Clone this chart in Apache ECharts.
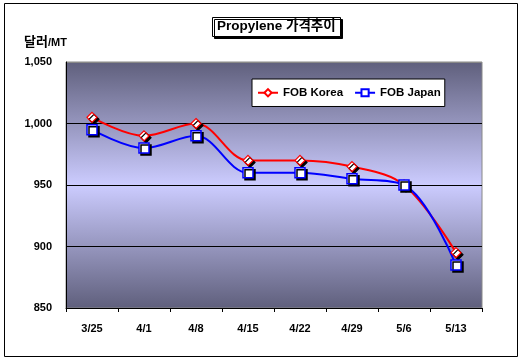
<!DOCTYPE html>
<html><head><meta charset="utf-8">
<script src="https://cdn.jsdelivr.net/npm/echarts@6/dist/echarts.min.js"></script>
<style>html,body{margin:0;padding:0;background:#fff}#c{width:523px;height:361px}</style>
</head><body><div id="c"></div>
<script>
const categories = ['3/25','4/1','4/8','4/15','4/22','4/29','5/6','5/13'];
const korea = [1005, 990, 1000, 970, 970, 965, 950, 895];
const japan = [995, 980, 990, 960, 960, 955, 950, 885];
const yTicks = {min: 850, max: 1050, interval: 50};

const FONT = '"Liberation Sans", "Noto Sans CJK KR", Arial, sans-serif';
const chart = echarts.init(document.getElementById('c'));
chart.setOption({
  animation: false,
  graphic: [{
    type: 'rect', shape: {x: 4.5, y: 3.5, width: 513, height: 353},
    style: {fill: 'none', stroke: '#000', lineWidth: 1}, z: -1
  }],
  title: {
    text: 'Propylene 가격추이',
    left: 212, top: 17,
    padding: [3, 5, 3, 5],
    borderColor: '#000', borderWidth: 1, backgroundColor: '#fff',
    shadowColor: '#000', shadowOffsetX: 2, shadowOffsetY: 2, shadowBlur: 0,
    textStyle: {fontFamily: FONT, fontSize: 13.5, fontWeight: 'bold', color: '#000'}
  },
  legend: {
    top: 79, left: 252, itemGap: 11,
    padding: [8, 4, 8, 5],
    borderColor: '#000', borderWidth: 1, backgroundColor: '#fff',
    itemWidth: 20, itemHeight: 9,
    textStyle: {fontFamily: FONT, fontSize: 11.5, fontWeight: 'bold', color: '#000'},
    data: [{name: 'FOB Korea'}, {name: 'FOB Japan'}]
  },
  grid: {
    left: 66, top: 62, right: 41, bottom: 53,
    show: true, borderColor: '#888', borderWidth: 1,
    backgroundColor: new echarts.graphic.LinearGradient(0, 0, 0, 1, [
      {offset: 0, color: '#5f5f7c'},
      {offset: 0.5, color: '#ccccff'},
      {offset: 1, color: '#5f5f7c'}
    ])
  },
  xAxis: {
    type: 'category', data: categories, boundaryGap: true,
    axisLine: {lineStyle: {color: '#000', width: 1}},
    axisTick: {show: true, length: 4, lineStyle: {color: '#000'}},
    axisLabel: {fontFamily: FONT, fontSize: 11, fontWeight: 'bold', color: '#000', margin: 15}
  },
  yAxis: {
    type: 'value', min: yTicks.min, max: yTicks.max, interval: yTicks.interval,
    name: '{a|달러}{b|/MT}', nameLocation: 'end', nameGap: 13,
    nameTextStyle: {
      align: 'left', padding: [0, 0, 0, -42],
      rich: {
        a: {fontFamily: FONT, fontSize: 13, fontWeight: 'bold', color: '#000'},
        b: {fontFamily: FONT, fontSize: 11, fontWeight: 'bold', color: '#000'}
      }
    },
    axisLine: {show: true, lineStyle: {color: '#000', width: 1}},
    axisTick: {show: false},
    splitLine: {show: true, lineStyle: {color: ['#000', '#000', '#000', '#000', '#888'], width: 1}},
    axisLabel: {
      fontFamily: FONT, fontSize: 11, fontWeight: 'bold', color: '#000', margin: 14,
      formatter: v => v.toLocaleString('en-US')
    }
  },
  series: [{
    name: 'FOB Korea', type: 'line', data: korea, smooth: 0.35,
    symbol: 'diamond', symbolSize: 10,
    lineStyle: {color: '#ff0000', width: 2},
    itemStyle: {color: '#fff', borderColor: '#ff0000', borderWidth: 1.2,
      shadowColor: '#000', shadowOffsetX: 2, shadowOffsetY: 2, shadowBlur: 0}
  }, {
    name: 'FOB Japan', type: 'line', data: japan, smooth: 0.35,
    symbol: 'rect', symbolSize: 10,
    lineStyle: {color: '#0000ff', width: 2},
    itemStyle: {color: '#fff', borderColor: '#0000ff', borderWidth: 1.5,
      shadowColor: '#000', shadowOffsetX: 2, shadowOffsetY: 2, shadowBlur: 0}
  }]
});
</script></body></html>
